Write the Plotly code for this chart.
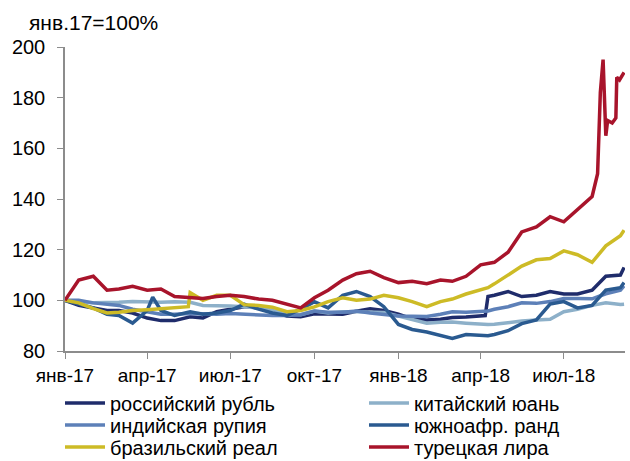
import plotly.graph_objects as go

dates = [
    "2017-01-01", "2017-01-16", "2017-02-01", "2017-02-16", "2017-03-01", "2017-03-16",
    "2017-04-01", "2017-04-07", "2017-04-16", "2017-05-01", "2017-05-16", "2017-05-18",
    "2017-06-01", "2017-06-16",
    "2017-07-01", "2017-07-16", "2017-08-01", "2017-08-16", "2017-09-01", "2017-09-16",
    "2017-10-01", "2017-10-16", "2017-11-01", "2017-11-16", "2017-12-01", "2017-12-16",
    "2018-01-01", "2018-01-16", "2018-02-01", "2018-02-16", "2018-03-01", "2018-03-16",
    "2018-04-01", "2018-04-06", "2018-04-09", "2018-04-16", "2018-05-01", "2018-05-16",
    "2018-06-01", "2018-06-16",
    "2018-07-01", "2018-07-16", "2018-08-01", "2018-08-16", "2018-09-01", "2018-09-05",
]

rub = [100, 98, 97, 96, 96, 95, 93, 92.5, 92, 92, 93.5, 93.5, 93, 95.5,
       96.5, 97.5, 97.5, 95.5, 93.8, 93.5, 94.7, 94.5, 94.5, 95.7, 96.7, 96,
       94.5, 92.7, 92.2, 92.5, 93.2, 93.4, 93.8, 94, 101.5, 102, 103.5, 101.5, 102, 103.5,
       102.5, 102.5, 104, 109.5, 110, 113]
cny = [100, 99.3, 99, 99, 99.2, 99.5, 99.2, 99.2, 99.2, 99.4, 99.2, 99.2, 98, 98,
       97.8, 97.5, 97, 96, 94.5, 94.3, 95.8, 95, 95.5, 95.5, 95.4, 95.2,
       93.8, 92.5, 91, 91.3, 91.4, 91, 90.5, 90.5, 90.5, 90.6, 91.3, 91.8, 92.2, 92.5,
       95.5, 96.5, 98, 99, 98.4, 98.5]
inr = [100, 100, 99, 98.5, 98, 96.5, 95.5, 95, 94.5, 94.5, 94.8, 94.8, 94.7, 94.5,
       94.8, 94.5, 94, 94, 94, 94.3, 95.8, 95.3, 95.3, 95.8, 95, 94.3,
       93.8, 93.7, 93.6, 94.5, 95.5, 95.3, 95.5, 95.6, 95.8, 96.5, 97.5, 99, 98.8, 99.5,
       100.7, 100.7, 100.6, 102.6, 104, 105.7]
zar = [100, 98.5, 97, 94.5, 94, 91, 96, 101.3, 96, 94, 95.5, 95.5, 94.5, 95,
       96, 98.5, 96.5, 95, 94, 96.5, 99.5, 97, 102, 103.5, 101.5, 97.5,
       90.5, 88.5, 87.5, 86, 85, 86.5, 86, 86, 86, 86.5, 88, 90.8, 92.3, 98.5,
       99.5, 97, 98, 104, 105, 107]
brl = [100, 99, 96.7, 95, 95.3, 96, 96.3, 96.5, 96.7, 97.3, 97.5, 103, 100, 102,
       102, 98.3, 98, 97.3, 95.5, 96, 97.4, 99.5, 101, 100, 100.5, 102,
       101, 99.5, 97.5, 99.5, 100.5, 102.5, 104.3, 104.5, 105, 106.5, 110, 113.5, 116, 116.5,
       119.5, 118, 115, 121.5, 125.5, 127.7]

try_dates = [
    "2017-01-01", "2017-01-16", "2017-02-01", "2017-02-16", "2017-03-01", "2017-03-16",
    "2017-04-01", "2017-04-16", "2017-05-01", "2017-05-16", "2017-06-01", "2017-06-16",
    "2017-07-01", "2017-07-16", "2017-08-01", "2017-08-16", "2017-09-01", "2017-09-16",
    "2017-10-01", "2017-10-16", "2017-11-01", "2017-11-16", "2017-12-01", "2017-12-16",
    "2018-01-01", "2018-01-16", "2018-02-01", "2018-02-16", "2018-03-01", "2018-03-16",
    "2018-04-01", "2018-04-16", "2018-05-01", "2018-05-16", "2018-06-01", "2018-06-16",
    "2018-07-01", "2018-07-16", "2018-08-01", "2018-08-07", "2018-08-10", "2018-08-13",
    "2018-08-16", "2018-08-18", "2018-08-23", "2018-08-27", "2018-08-28", "2018-08-31",
    "2018-09-05",
]
trl = [100, 108, 109.5, 104, 104.5, 105.5, 104, 104.5, 101.5, 101, 100.7, 101.5,
       102, 101.5, 100.5, 100, 98.5, 97, 101, 104, 108, 110.5, 111.5, 109,
       107, 107.5, 106.6, 108, 107.5, 109.5, 114, 115, 119, 127, 129, 133,
       131, 136, 141, 150, 182, 195,
       165, 171, 170, 172, 188, 187, 190]

tick_vals = ["2017-01-01", "2017-04-01", "2017-07-01", "2017-10-01",
             "2018-01-01", "2018-04-01", "2018-07-01"]
tick_text = ["янв-17", "апр-17", "июл-17", "окт-17", "янв-18", "апр-18", "июл-18"]

# name, x, y, colour, legend text-start x (px), legend row centre y (px)
series = [
    ("российский рубль", dates, rub, "#1F2C6B", 112, 403),
    ("китайский юань", dates, cny, "#8DB0C9", 416, 403),
    ("индийская рупия", dates, inr, "#5D80B8", 112, 425),
    ("южноафр. ранд", dates, zar, "#2A5A90", 416, 425),
    ("бразильский реал", dates, brl, "#CDBB26", 112, 447),
    ("турецкая лира", try_dates, trl, "#A8142B", 416, 447),
]

FAM = "Liberation Sans, Arial, sans-serif"
W, H = 630, 461
L, R, T, B = 65, 5, 47, 110
PW, PH = W - L - R, H - T - B

fig = go.Figure()
legends = {}
for i, (name, x, y, color, lx, ly) in enumerate(series):
    key = "legend" if i == 0 else f"legend{i + 1}"
    fig.add_trace(go.Scatter(x=x, y=y, name=name, mode="lines", legend=key,
                             line=dict(color=color, width=3.5)))
    legends[key] = dict(x=(lx - 52 - L) / PW, xanchor="left",
                        y=(H - B - ly) / PH, yanchor="middle",
                        font=dict(family=FAM, size=20, color="#000000"),
                        bgcolor="rgba(0,0,0,0)", itemwidth=40)

fig.update_layout(
    width=W, height=H,
    margin=dict(l=L, r=R, t=T, b=B, autoexpand=False),
    paper_bgcolor="white", plot_bgcolor="white",
    font=dict(family=FAM, size=19, color="#000000"),
    showlegend=True,
    **legends,
    xaxis=dict(range=["2017-01-01", "2018-09-06"], tickmode="array",
               tickvals=tick_vals, ticktext=tick_text, showgrid=False,
               showline=True, linecolor="#8C8C8C", linewidth=1.5,
               ticks="outside", ticklen=6, tickcolor="#8C8C8C", zeroline=False,
               tickfont=dict(family=FAM, size=19, color="#000000")),
    yaxis=dict(range=[80, 200], tickvals=[80, 100, 120, 140, 160, 180, 200],
               showgrid=False, showline=True, linecolor="#8C8C8C", linewidth=1.5,
               ticks="outside", ticklen=6, tickcolor="#8C8C8C", zeroline=False,
               ticklabelstandoff=8,
               tickfont=dict(family=FAM, size=20, color="#000000")),
)
fig.add_annotation(text="янв.17=100%", xref="paper", yref="paper",
                   x=(27 - L) / PW, y=(H - B - 22) / PH, xanchor="left", yanchor="middle",
                   showarrow=False, font=dict(family=FAM, size=21, color="#000000"))

fig.write_html("out.html", config={"displayModeBar": False},
               post_script="document.body.style.margin='0';")
